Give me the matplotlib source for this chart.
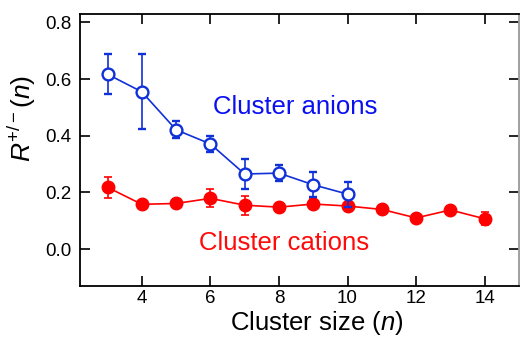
import numpy as np
import matplotlib
matplotlib.use('Agg')
import matplotlib.pyplot as plt

plt.rcParams['font.family'] = 'Liberation Sans'
plt.rcParams['mathtext.fontset'] = 'custom'
plt.rcParams['mathtext.rm'] = 'Liberation Sans'
plt.rcParams['mathtext.it'] = 'Liberation Sans:italic'

# anion clusters (open blue)
n_anion = [3, 4, 5, 6, 7, 8, 9, 10]
r_anion = [0.617, 0.555, 0.421, 0.371, 0.265, 0.268, 0.227, 0.194]
err_anion = [0.07, 0.133, 0.03, 0.027, 0.054, 0.027, 0.044, 0.044]

# cation clusters (filled red)
n_cation = [3, 4, 5, 6, 7, 8, 9, 10, 11, 12, 13, 14]
r_cation = [0.218, 0.158, 0.161, 0.179, 0.155, 0.148, 0.159, 0.152, 0.140, 0.110, 0.138, 0.107]
err_cation = [0.037, 0.015, 0.008, 0.032, 0.034, 0.013, 0.019, 0.013, 0.008, 0.013, 0.014, 0.023]

fig = plt.figure(figsize=(5.2, 3.38), dpi=100)
ax = fig.add_axes([0.154, 0.154, 0.844, 0.805])

ax.errorbar(n_anion, r_anion, yerr=err_anion, color='#1030d8', marker='o',
            mfc='white', mec='#1030d8', mew=1.7, ms=8.5, lw=1.2,
            capsize=3, elinewidth=1.2, capthick=1.2, zorder=3)
ax.errorbar(n_cation, r_cation, yerr=err_cation, color='#ff0000', marker='o',
            mfc='#ff0000', mec='#ff0000', ms=9, lw=1.2,
            capsize=3, elinewidth=1.2, capthick=1.2, zorder=2)

ax.text(8.47, 0.503, 'Cluster anions', color='#0a10f0', fontsize=18.5,
        ha='center', va='center')
ax.text(8.15, 0.022, 'Cluster cations', color='#ff0a0a', fontsize=18.5,
        ha='center', va='center')

ax.set_xlim(2.2, 15.0)
ax.set_ylim(-0.13, 0.83)
ax.set_xticks([4, 6, 8, 10, 12, 14])
ax.set_yticks([0.0, 0.2, 0.4, 0.6, 0.8])
ax.set_yticklabels(['0.0', '0.2', '0.4', '0.6', '0.8'])
ax.tick_params(direction='in', length=7, width=1.2, labelsize=13.5,
               top=True, right=True, pad=6)
ax.tick_params(axis='x', pad=3)

for s in ['left', 'bottom', 'top']:
    ax.spines[s].set_linewidth(1.3)
ax.spines['right'].set_color('#999999')
ax.spines['right'].set_linewidth(1.3)

ax.set_xlabel('Cluster size ($\\mathit{n}$)', fontsize=18.5)
ax.xaxis.set_label_coords(0.54, -0.086)
ax.set_ylabel('$\\mathit{R}^{+/-}(\\mathit{n})$', fontsize=19)
ax.yaxis.set_label_coords(-0.096, 0.616)

fig.savefig('out.png', dpi=100)
